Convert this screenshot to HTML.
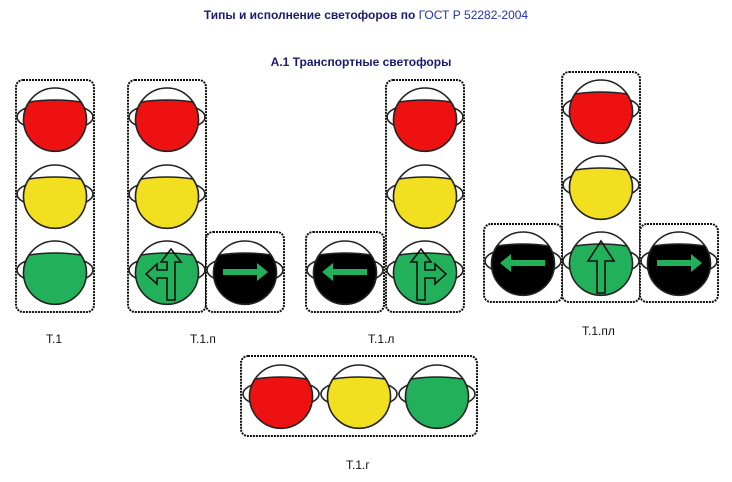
<!DOCTYPE html>
<html><head><meta charset="utf-8"><style>
html,body{margin:0;padding:0;background:#fff;width:732px;height:482px;overflow:hidden}
svg{display:block}
text{font-family:"Liberation Sans",sans-serif}
</style></head><body>
<svg width="732" height="482" viewBox="0 0 732 482" xmlns="http://www.w3.org/2000/svg">
<defs>
<g id="base">
<ellipse cx="0" cy="-2" rx="38" ry="14" fill="#fff" stroke="#222" stroke-width="1.6"/>
<circle cx="0" cy="0" r="31" fill="#fff" stroke="#222" stroke-width="1.6"/>
</g>
<path id="lens" d="M -26 -17 Q 0 -21 26 -17 A 31.5 31.5 0 1 1 -26 -17 Z" stroke="#222" stroke-width="1.6"/>
<path id="sl" d="M 0 28 V 6 H -10 V 12 L -21 2 L -10 -8 V -2 H 0 V -10 H -6 L 4 -23 L 14 -10 H 8 V 28 Z" fill="none" stroke="#111" stroke-width="1.6"/>
</defs>
<text x="366" y="19" text-anchor="middle" font-size="12" font-weight="bold" fill="#1a1a6e">Типы и исполнение светофоров по <tspan font-weight="normal" fill="#2233aa">ГОСТ Р 52282-2004</tspan></text>
<text x="361" y="66" text-anchor="middle" font-size="12" font-weight="bold" fill="#1a1a6e">А.1 Транспортные светофоры</text>

<g fill="#fff" stroke="#111" stroke-width="2" stroke-dasharray="2 1">
<rect x="16" y="80" width="78" height="232" rx="7"/>
<rect x="128" y="80" width="78" height="232" rx="7"/>
<rect x="206" y="232" width="78" height="80" rx="7"/>
<rect x="306" y="232" width="78" height="80" rx="7"/>
<rect x="386" y="80" width="78" height="232" rx="7"/>
<rect x="562" y="72" width="78" height="230" rx="7"/>
<rect x="484" y="224" width="78" height="78" rx="7"/>
<rect x="640" y="224" width="78" height="78" rx="7"/>
<rect x="241" y="356" width="236" height="80" rx="7"/>
</g>

<!-- T.1 -->
<g transform="translate(55,119)"><use href="#base"/><use href="#lens" fill="#ee1111"/></g>
<g transform="translate(55,196)"><use href="#base"/><use href="#lens" fill="#f2e020"/></g>
<g transform="translate(55,272)"><use href="#base"/><use href="#lens" fill="#22b05a"/></g>
<!-- T.1.п -->
<g transform="translate(167,119)"><use href="#base"/><use href="#lens" fill="#ee1111"/></g>
<g transform="translate(167,196)"><use href="#base"/><use href="#lens" fill="#f2e020"/></g>
<g transform="translate(167,272)"><use href="#base"/><use href="#lens" fill="#22b05a"/><use href="#sl"/></g>
<g transform="translate(245,272)"><use href="#base"/><use href="#lens" fill="#000"/>
<path d="M-22 -3 H12 V-9 L23 0 L12 9 V3 H-22 Z" fill="#22b05a"/></g>
<!-- T.1.л -->
<g transform="translate(345,272)"><use href="#base"/><use href="#lens" fill="#000"/>
<path d="M22 -3 H-12 V-9 L-23 0 L-12 9 V3 H22 Z" fill="#22b05a"/></g>
<g transform="translate(425,119)"><use href="#base"/><use href="#lens" fill="#ee1111"/></g>
<g transform="translate(425,196)"><use href="#base"/><use href="#lens" fill="#f2e020"/></g>
<g transform="translate(425,272)"><use href="#base"/><use href="#lens" fill="#22b05a"/><use href="#sl" transform="scale(-1,1)"/></g>
<!-- T.1.пл -->
<g transform="translate(601,111)"><use href="#base"/><use href="#lens" fill="#ee1111"/></g>
<g transform="translate(601,187)"><use href="#base"/><use href="#lens" fill="#f2e020"/></g>
<g transform="translate(601,263)"><use href="#base"/><use href="#lens" fill="#22b05a"/>
<path d="M-4 30 V-2 H-13 L0 -22 L13 -2 H4 V30 Z" fill="none" stroke="#111" stroke-width="1.6"/></g>
<g transform="translate(523,263)"><use href="#base"/><use href="#lens" fill="#000"/>
<path d="M22 -3 H-12 V-9 L-23 0 L-12 9 V3 H22 Z" fill="#22b05a"/></g>
<g transform="translate(679,263)"><use href="#base"/><use href="#lens" fill="#000"/>
<path d="M-22 -3 H12 V-9 L23 0 L12 9 V3 H-22 Z" fill="#22b05a"/></g>
<!-- T.1.г -->
<g transform="translate(281,396)"><use href="#base"/><use href="#lens" fill="#ee1111"/></g>
<g transform="translate(359,396)"><use href="#base"/><use href="#lens" fill="#f2e020"/></g>
<g transform="translate(437,396)"><use href="#base"/><use href="#lens" fill="#22b05a"/></g>

<g font-size="12" fill="#111">
<text x="46" y="343">Т.1</text>
<text x="190" y="343">Т.1.п</text>
<text x="368" y="343">Т.1.л</text>
<text x="582" y="335">Т.1.пл</text>
<text x="346" y="469">Т.1.г</text>
</g>
</svg>
</body></html>
